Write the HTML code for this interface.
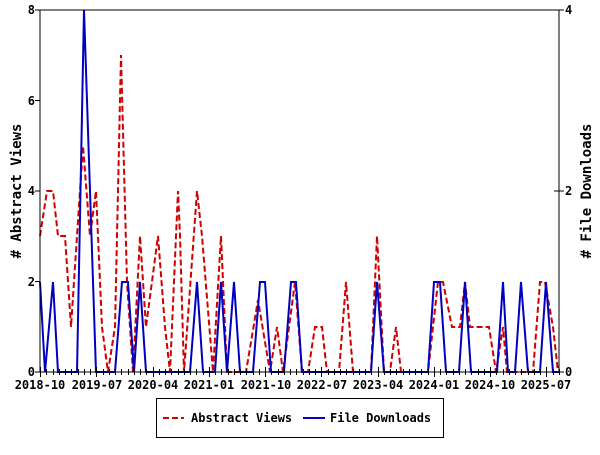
<!DOCTYPE html>
<html><head><meta charset="utf-8"><style>
html,body{margin:0;padding:0;background:#fff;}
svg text{font-family:"DejaVu Sans Mono","Liberation Mono",monospace;font-size:12px;font-weight:bold;fill:#000;}
</style></head><body>
<svg width="600" height="450" xmlns="http://www.w3.org/2000/svg">
<rect width="600" height="450" fill="#fff"/>
<polyline fill="none" stroke="#d00000" stroke-width="2" stroke-dasharray="6,3" points="40,236 47,191 53,191 58,236 65,236 71,327 77,236 83,146 90,236 96,191 102,327 108,372 115,327 121,55 127,282 133,372 140,236 146,327 158,236 165,327 170,372 178,191 180,236 184,372 197,191 202,236 213,372 221,236 227,372 246,372 258,300 270,372 277,327 283,372 295,282 302,372 308,372 315,327 322,327 327,372 339,372 346,282 353,372 371,372 377,236 384,372 390,372 396,327 401,372 428,372 438,282 443,282 452,327 460,327 465,282 470,327 489,327 496,372 503,327 507,372 533,372 540,282 545,282 553,327 558,372"/>
<polyline fill="none" stroke="#0000c0" stroke-width="2" points="40,282 45,372 53,282 58,372 77,372 84,10 96,372 115,372 122,282 128,282 134,372 140,282 146,372 190,372 197,282 203,372 215,372 221,282 227,372 234,282 240,372 253,372 260,282 265,282 271,372 284,372 291,282 296,282 302,372 371,372 377,282 384,372 428,372 434,282 440,282 446,372 459,372 465,282 471,372 497,372 503,282 508,372 515,372 521,282 528,372 540,372 546,282 553,372 559,372"/>
<rect x="40" y="10" width="519" height="362" fill="none" stroke="#000" stroke-width="1"/>
<g id="minor" stroke="#000" stroke-width="1"></g>
<g stroke="#000" stroke-width="1">
<line x1="35" y1="372" x2="40" y2="372"/><line x1="35" y1="281.5" x2="40" y2="281.5"/><line x1="35" y1="191" x2="40" y2="191"/><line x1="35" y1="100.5" x2="40" y2="100.5"/><line x1="35" y1="10" x2="40" y2="10"/>
<line x1="554" y1="372" x2="564" y2="372"/><line x1="554" y1="191" x2="564" y2="191"/><line x1="554" y1="10" x2="564" y2="10"/>
</g>
<g text-anchor="end">
<text x="35" y="376">0</text><text x="35" y="286">2</text><text x="35" y="195">4</text><text x="35" y="105">6</text><text x="35" y="14">8</text>
</g>
<text x="565" y="376">0</text><text x="565" y="195">2</text><text x="565" y="14">4</text>
<g text-anchor="middle">
<text x="40" y="389">2018-10</text><text x="97" y="389">2019-07</text><text x="153" y="389">2020-04</text><text x="209" y="389">2021-01</text><text x="266" y="389">2021-10</text><text x="322" y="389">2022-07</text><text x="378" y="389">2023-04</text><text x="434" y="389">2024-01</text><text x="490" y="389">2024-10</text><text x="546" y="389">2025-07</text>
</g>
<text transform="translate(21,191) rotate(-90)" text-anchor="middle" style="font-size:14px">#  Abstract Views</text>
<text transform="translate(591,191) rotate(-90)" text-anchor="middle" style="font-size:14px">#  File Downloads</text>
<rect x="156.5" y="398.5" width="287" height="39" fill="#fff" stroke="#000"/>
<line x1="163" y1="418" x2="184" y2="418" stroke="#d00000" stroke-width="2" stroke-dasharray="6,3"/>
<text x="191" y="422">Abstract Views</text>
<line x1="303" y1="418" x2="325" y2="418" stroke="#0000c0" stroke-width="2"/>
<text x="330" y="422">File Downloads</text>
</svg>
<script>
var g=document.getElementById('minor'),s='';
for(var i=0;i<=83;i++){var x=Math.round(40+i*6.253)+0.5;var L=(i%9==0)?5:3;s+='<line x1="'+x+'" y1="'+(372-L)+'" x2="'+x+'" y2="'+(372+L)+'"/>';}
g.innerHTML=s;
</script>
</body></html>
